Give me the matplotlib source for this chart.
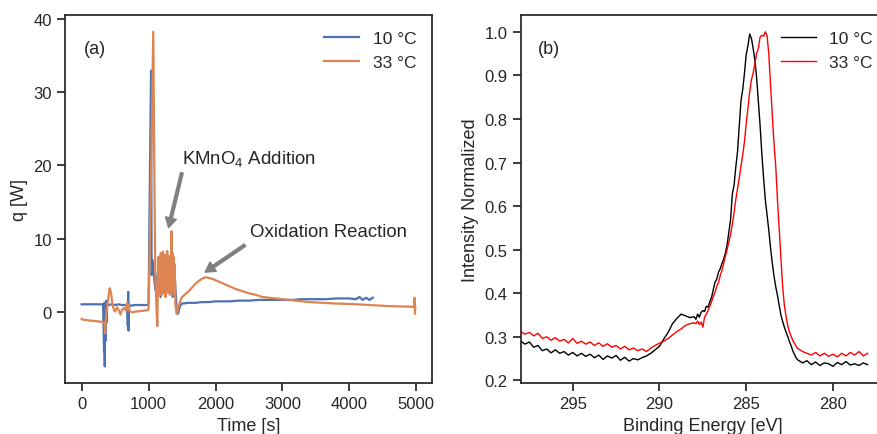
import matplotlib
matplotlib.use("Agg")
import matplotlib.pyplot as plt

# panel (a): heat flow q [W] vs time [s]
t_10 = [0, 320, 335, 340, 345, 352, 358, 365, 372, 380, 400, 450, 500, 550, 600,
        660, 680, 690, 695, 700, 705, 720, 800, 900, 990, 1000, 1010, 1037, 1045,
        1060, 1100, 1150, 1180, 1210, 1240, 1270, 1300, 1330, 1360, 1390, 1420,
        1440, 1470, 1500, 1600, 1700, 1800, 1900, 2000, 2100, 2200, 2350, 2500,
        2650, 2800, 3000, 3150, 3300, 3500, 3650, 3800, 4000, 4100, 4150, 4200,
        4250, 4300, 4350]
q_10 = [1.0, 1.0, -5.5, 1.2, -7.5, 0.5, -4.0, 1.5, -1.5, 1.0, 0.9, 1.0, 0.9, 1.0, 0.9,
        0.9, 1.0, -2.0, 2.7, -2.6, 1.0, 0.8, 0.9, 0.9, 0.9, 1.0, 10.0, 33.0, 5.0,
        7.0, 3.0, 6.0, 2.0, 7.0, 3.0, 7.8, 3.0, 7.0, 2.0, 5.0, 0.2,
        -0.3, 0.8, 1.1, 1.2, 1.2, 1.3, 1.3, 1.4, 1.4, 1.4, 1.5, 1.5,
        1.6, 1.6, 1.6, 1.6, 1.7, 1.7, 1.7, 1.8, 1.8, 1.7, 2.0, 1.6,
        1.9, 1.6, 1.9]

t_33 = [0, 20, 100, 200, 300, 340, 350, 365, 380, 400, 420, 440, 460, 480, 500,
        530, 560, 580, 600, 630, 660, 680, 690, 700, 720, 760, 800, 900, 990, 1000,
        1030, 1070, 1085, 1100, 1110, 1130, 1140, 1150, 1158, 1166, 1174, 1182,
        1190, 1198, 1206, 1214, 1222, 1230, 1238, 1246, 1254, 1262, 1270, 1278,
        1286, 1294, 1302, 1310, 1318, 1326, 1334, 1342, 1350, 1358, 1366, 1374,
        1382, 1390, 1400, 1420, 1440, 1460, 1480, 1500, 1550, 1600, 1650, 1700,
        1750, 1800, 1850, 1900, 1950, 2000, 2100, 2200, 2300, 2400, 2500, 2600,
        2700, 2800, 2900, 3000, 3200, 3400, 3600, 3800, 4000, 4200, 4400, 4600,
        4800, 4970, 4975, 4980, 4985]
q_33 = [-1.0, -1.1, -1.2, -1.3, -1.4, -1.5, -3.0, -0.5, 0.5, 2.0, 3.2, 2.5, 1.0, 0.3, 0.0,
        0.6, 0.1, -0.4, 0.2, 0.5, 0.2, 1.2, 0.2, 1.0, 0.0, -0.1, 0.0, 0.1, 0.2, 0.5,
        15.0, 38.3, 20.0, 5.0, 2.5, -2.0, 4.0, 7.5, 2.5, 6.5, 3.0, 8.0,
        2.2, 7.0, 3.5, 8.2, 2.5, 6.8, 3.2, 7.8, 2.0, 6.5, 3.0, 8.3,
        2.6, 7.2, 3.4, 7.6, 2.3, 6.0, 4.0, 11.0, 2.5, 8.0, 3.0, 7.5,
        2.2, 6.5, 1.0, -0.3, 0.5, 1.0, 1.6, 2.0, 2.4, 2.8, 3.3, 3.8,
        4.2, 4.5, 4.7, 4.6, 4.5, 4.3, 3.9, 3.5, 3.1, 2.8, 2.5, 2.3,
        2.0, 1.9, 1.8, 1.7, 1.5, 1.3, 1.2, 1.1, 1.05, 0.95, 0.85, 0.75,
        0.7, 0.65, 1.9, -0.3, 0.6]

# panel (b): normalized XPS intensity vs binding energy [eV]
energy = [298.0, 297.75, 297.5, 297.25, 297.0, 296.75, 296.5, 296.25, 296.0, 295.75,
          295.5, 295.25, 295.0, 294.75, 294.5, 294.25, 294.0, 293.75, 293.5, 293.25,
          293.0, 292.75, 292.5, 292.25, 292.0, 291.75, 291.5, 291.25, 291.0, 290.75,
          290.5, 290.25, 290.0, 289.75, 289.5, 289.25, 289.0, 288.75, 288.5, 288.25,
          288.0,
          287.9, 287.8, 287.7, 287.6, 287.5, 287.4, 287.3, 287.2, 287.1, 287.0,
          286.9, 286.8, 286.7, 286.6, 286.5, 286.4, 286.3, 286.2, 286.1, 286.0,
          285.9, 285.8, 285.7, 285.6, 285.5, 285.4, 285.3, 285.2, 285.1, 285.0,
          284.9, 284.8, 284.7, 284.6, 284.5, 284.4, 284.3, 284.2, 284.1, 284.0,
          283.9, 283.8, 283.7, 283.6, 283.5, 283.4, 283.3, 283.2, 283.1, 283.0,
          282.9, 282.8, 282.7, 282.6, 282.5, 282.4, 282.3, 282.2, 282.1, 282.0,
          281.75, 281.5, 281.25, 281.0, 280.75, 280.5, 280.25, 280.0, 279.75, 279.5,
          279.25, 279.0, 278.75, 278.5, 278.25, 278.0]

int_10 = [0.290, 0.283, 0.288, 0.276, 0.280, 0.268, 0.272, 0.263, 0.270, 0.262,
          0.266, 0.258, 0.264, 0.256, 0.262, 0.255, 0.260, 0.252, 0.258, 0.248,
          0.256, 0.251, 0.257, 0.246, 0.253, 0.244, 0.250, 0.247, 0.252, 0.256,
          0.262, 0.270, 0.278, 0.295, 0.310, 0.330, 0.342, 0.352, 0.348, 0.344,
          0.346,
          0.340, 0.352, 0.345, 0.356, 0.360, 0.358, 0.370, 0.368, 0.380, 0.390,
          0.408, 0.425, 0.432, 0.448, 0.456, 0.468, 0.478, 0.492, 0.512, 0.540,
          0.570, 0.628, 0.648, 0.690, 0.725, 0.785, 0.842, 0.868, 0.905, 0.948,
          0.968, 0.995, 0.985, 0.962, 0.935, 0.895, 0.840, 0.785, 0.720, 0.665,
          0.615, 0.580, 0.545, 0.505, 0.470, 0.440, 0.415, 0.395, 0.372, 0.350,
          0.335, 0.322, 0.310, 0.300, 0.288, 0.278, 0.266, 0.258, 0.250, 0.246,
          0.240, 0.245, 0.236, 0.242, 0.234, 0.240, 0.238, 0.232, 0.241, 0.236,
          0.243, 0.235, 0.238, 0.234, 0.240, 0.236]

int_33 = [0.312, 0.306, 0.310, 0.302, 0.308, 0.296, 0.300, 0.292, 0.298, 0.290,
          0.294, 0.286, 0.296, 0.285, 0.290, 0.283, 0.288, 0.280, 0.286, 0.278,
          0.284, 0.276, 0.280, 0.272, 0.278, 0.270, 0.274, 0.268, 0.272, 0.266,
          0.274, 0.280, 0.285, 0.290, 0.296, 0.304, 0.312, 0.318, 0.326, 0.330,
          0.332,
          0.330, 0.336, 0.328, 0.334, 0.322, 0.345, 0.352, 0.360, 0.370, 0.380,
          0.392, 0.402, 0.415, 0.425, 0.440, 0.452, 0.468, 0.485, 0.500, 0.518,
          0.535, 0.558, 0.585, 0.615, 0.640, 0.665, 0.692, 0.718, 0.748, 0.790,
          0.825, 0.862, 0.890, 0.905, 0.928, 0.950, 0.962, 0.988, 0.992, 0.990,
          1.000, 0.992, 0.950, 0.880, 0.810, 0.745, 0.693, 0.615, 0.548, 0.480,
          0.415, 0.372, 0.345, 0.325, 0.310, 0.300, 0.290, 0.284, 0.276, 0.272,
          0.266, 0.262, 0.258, 0.264, 0.256, 0.262, 0.255, 0.260, 0.254, 0.262,
          0.256, 0.264, 0.258, 0.266, 0.256, 0.262]

plt.rcParams["font.family"] = ["Liberation Sans", "DejaVu Sans"]
plt.rcParams["mathtext.fontset"] = "custom"
plt.rcParams["mathtext.rm"] = "Liberation Sans"
plt.rcParams["mathtext.it"] = "Liberation Sans:italic"
plt.rcParams["text.color"] = "#262626"
plt.rcParams["axes.labelcolor"] = "#262626"
plt.rcParams["axes.edgecolor"] = "#262626"
plt.rcParams["xtick.color"] = "#262626"
plt.rcParams["ytick.color"] = "#262626"
plt.rcParams["axes.linewidth"] = 1.25
plt.rcParams["xtick.major.width"] = 1.25
plt.rcParams["ytick.major.width"] = 1.25
plt.rcParams["xtick.major.size"] = 6
plt.rcParams["ytick.major.size"] = 6
plt.rcParams["xtick.labelsize"] = 12
plt.rcParams["ytick.labelsize"] = 12
plt.rcParams["axes.labelsize"] = 13

fig = plt.figure(figsize=(8.78, 4.35), dpi=100)
ax1 = fig.add_axes([0.074, 0.117, 0.418, 0.846])
ax2 = fig.add_axes([0.593, 0.117, 0.415, 0.846])

# (a)
ax1.plot(t_10, q_10, color="#4C72B0", lw=1.6, label="10 °C")
ax1.plot(t_33, q_33, color="#DD8452", lw=1.6, label="33 °C")
ax1.set_xlabel("Time [s]")
ax1.set_ylabel("q [W]")
ax1.set_xticks([0, 1000, 2000, 3000, 4000, 5000])
ax1.set_yticks([0, 10, 20, 30, 40])
ax1.legend(loc="upper right", frameon=False, fontsize=12.5)
ax1.text(0.052, 0.908, "(a)", transform=ax1.transAxes, fontsize=13, va="center")

arrow = dict(facecolor="gray", edgecolor="gray", width=2, headwidth=8, headlength=7, shrink=0.0)
ax1.annotate("", xy=(1299, 11.5), xytext=(1498, 19.0), arrowprops=arrow)
ax1.text(1503, 21.0, "KMnO$_4$ Addition", fontsize=13.4, va="center", ha="left")
ax1.annotate("", xy=(1845, 5.4), xytext=(2440, 9.1), arrowprops=arrow)
ax1.text(2515, 10.9, "Oxidation Reaction", fontsize=13.4, va="center", ha="left")

# (b)
ax2.plot(energy, int_10, color="black", lw=1.0, label="10 °C")
ax2.plot(energy, int_33, color="red", lw=1.0, label="33 °C")
ax2.set_xlim(298, 277)
ax2.set_xticks([295, 290, 285, 280])
ax2.set_yticks([0.2, 0.3, 0.4, 0.5, 0.6, 0.7, 0.8, 0.9, 1.0])
ax2.set_xlabel("Binding Energy [eV]")
ax2.set_ylabel("Intensity Normalized")
ax2.legend(loc="upper right", bbox_to_anchor=(1.01, 1.0), frameon=False, fontsize=12.5)
ax2.text(0.047, 0.908, "(b)", transform=ax2.transAxes, fontsize=13, va="center")

plt.savefig("out.png", dpi=100)
